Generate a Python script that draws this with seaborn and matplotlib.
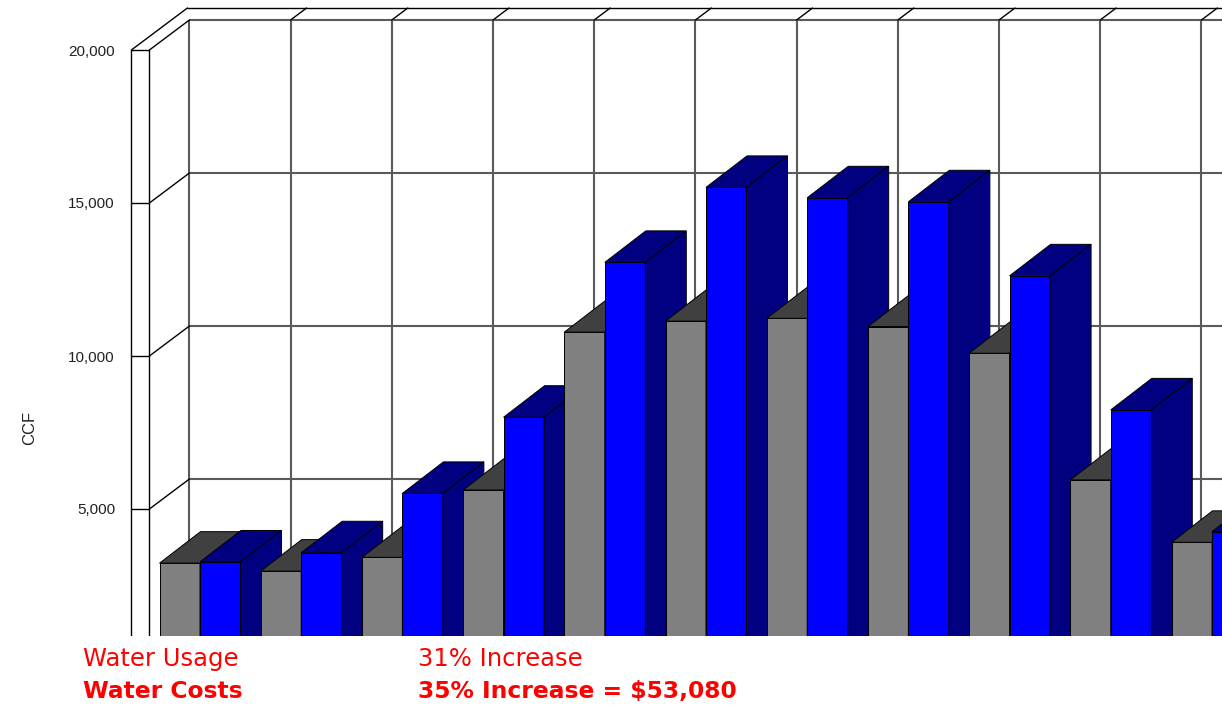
import matplotlib
matplotlib.use("Agg")
import matplotlib.pyplot as plt
from matplotlib.patches import Polygon
import pandas as pd
import seaborn as sns

# ---- data -------------------------------------------------------------
months = ["Jan", "Feb", "Mar", "Apr", "May", "Jun", "Jul", "Aug", "Sep", "Oct", "Nov"]
series_names = ["Prior Year", "Current Year"]
prior_ccf = [3230, 2970, 3420, 5620, 10780, 11140, 11230, 10960, 10090, 5950, 3910]
current_ccf = [3270, 3570, 5510, 8000, 13060, 15510, 15170, 15040, 12620, 8240, 4260]
ytick_values = [5000, 10000, 15000, 20000]
y_title = "CCF"
usage_label, usage_text = "Water Usage", "31% Increase"
cost_label, cost_text = "Water Costs", "35% Increase = $53,080"

df = pd.DataFrame({
    "month": months * 2,
    "ccf": prior_ccf + current_ccf,
    "series": [series_names[0]] * len(months) + [series_names[1]] * len(months),
})

# ---- style ------------------------------------------------------------
sns.set_theme(style="white")
plt.rcParams["font.family"] = ["Liberation Sans", "DejaVu Sans"]

GRAY, GRAY_DARK = "#808080", "#404040"
BLUE, BLUE_DARK = "#0000FF", "#000080"
RED = "#FF0000"

W, H = 1222, 708
fig = plt.figure(figsize=(W / 100, H / 100), dpi=100)
fig.patch.set_facecolor("white")

# axes geometry (pixels): category spacing and value scale
CAT_PX = 101.2
VAL_PX = 153 / 5000          # pixels per CCF
ZERO_PX = 662                # pixel row of the zero line on the front plane
LEFT_PX, BOTTOM_PX = 120, 636
ax = fig.add_axes([LEFT_PX / W, (H - BOTTOM_PX) / H, (W - LEFT_PX) / W, BOTTOM_PX / H])

sns.barplot(data=df, x="month", y="ccf", hue="series", palette=[GRAY, BLUE],
            hue_order=series_names, order=months, width=0.8, saturation=1,
            edgecolor="black", linewidth=0.7, errorbar=None, legend=False, ax=ax)

xmin = (LEFT_PX - 200) / CAT_PX
xmax = (W - 200) / CAT_PX
ymin = (ZERO_PX - BOTTOM_PX) / VAL_PX
ymax = ZERO_PX / VAL_PX
ax.set_xlim(xmin, xmax)
ax.set_ylim(ymin, ymax)

# oblique depth offsets in data units
DX, DY = 40 / CAT_PX, 30 / VAL_PX          # back wall
BDX, BDY = 41 / CAT_PX, 31.5 / VAL_PX      # bar depth
WALL_T = 18 / CAT_PX                        # left wall thickness
top = ytick_values[-1]
grid_kw = dict(color="#5a5a5a", lw=1.5, zorder=1, solid_capstyle="butt")
edge_kw = dict(color="black", lw=1.0, zorder=2)

# back wall: horizontal gridlines plus diagonals on the left wall
x_wall = -0.5
for v in ytick_values:
    ax.plot([x_wall + DX, xmax], [v + DY, v + DY], **grid_kw)
    ax.plot([x_wall, x_wall + DX], [v, v + DY], **edge_kw)
    ax.plot([x_wall - WALL_T, x_wall], [v, v], **edge_kw)

# back wall: vertical gridlines
n_cols = int(xmax - x_wall) + 1
for k in range(n_cols + 1):
    xv = x_wall + k + DX
    ax.plot([xv, xv], [ymin, top + DY], **grid_kw)
    if k > 0:
        ax.plot([xv, x_wall + k + DX * 1.4], [top + DY, top + DY * 1.4], **edge_kw)

# top ledge of the back wall and outer edge of the left wall
ax.plot([x_wall - WALL_T, x_wall - WALL_T + DX * 1.4], [top, top + DY * 1.4], **edge_kw)
ax.plot([x_wall - WALL_T + DX * 1.4, xmax], [top + DY * 1.4, top + DY * 1.4], **edge_kw)
for xw in (x_wall - WALL_T, x_wall):
    ax.plot([xw, xw], [ymin, top], **edge_kw)

# 3-D faces for each bar, painted left to right
bars = sorted(ax.patches, key=lambda p: p.get_x())
for k, p in enumerate(bars):
    z = 10 + k
    p.set_zorder(z)
    x, w, h = p.get_x(), p.get_width(), p.get_height()
    is_blue = p.get_facecolor()[2] > 0.9 and p.get_facecolor()[0] < 0.1
    dark = BLUE_DARK if is_blue else GRAY_DARK
    top_face = Polygon([(x, h), (x + w, h), (x + w + BDX, h + BDY), (x + BDX, h + BDY)],
                       closed=True, facecolor=dark, edgecolor="black", lw=0.7, zorder=z)
    side_face = Polygon([(x + w, 0), (x + w, h), (x + w + BDX, h + BDY), (x + w + BDX, BDY)],
                        closed=True, facecolor=dark, edgecolor="black", lw=0.7, zorder=z)
    ax.add_patch(top_face)
    ax.add_patch(side_face)

# axes dressing
for s in ax.spines.values():
    s.set_visible(False)
ax.grid(False)
ax.set_xticks([])
ax.set_xlabel("")
ax.set_yticks(ytick_values)
ax.set_yticklabels([f"{v:,}" for v in ytick_values])
ax.tick_params(axis="y", length=0, pad=3.6, labelsize=11, labelcolor="#222222")
ax.set_ylabel(y_title, fontsize=12, color="#222222")
ax.yaxis.set_label_coords((30 - LEFT_PX) / (W - LEFT_PX), (BOTTOM_PX - 428) / BOTTOM_PX)
ax.yaxis.label.set_verticalalignment("center")

# summary lines under the chart
txt = dict(color=RED, family=["DejaVu Sans"], va="baseline", ha="left")
fig.text(83 / W, 1 - 666 / H, usage_label, fontsize=17.5, **txt)
fig.text(418 / W, 1 - 666 / H, usage_text, fontsize=17.5, **txt)
fig.text(83 / W, 1 - 698 / H, cost_label, fontsize=16.8, fontweight="bold", **txt)
fig.text(418 / W, 1 - 698 / H, cost_text, fontsize=16.8, fontweight="bold", **txt)

fig.savefig("out.png", dpi=100, facecolor="white")
